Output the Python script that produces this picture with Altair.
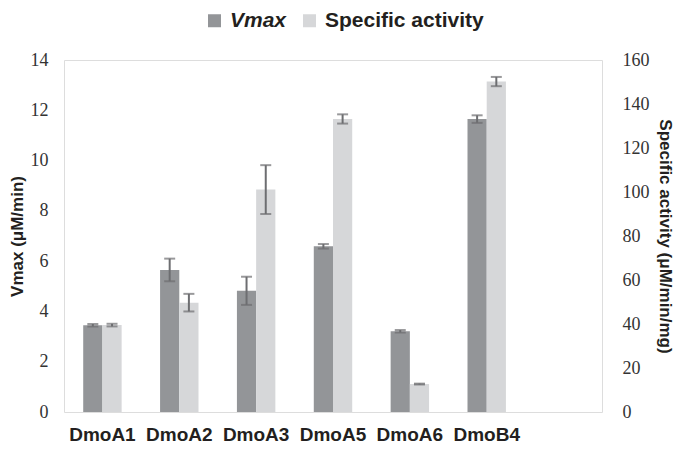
import altair as alt
import pandas as pd

categories = ["DmoA1", "DmoA2", "DmoA3", "DmoA5", "DmoA6", "DmoB4"]
series = ["Vmax", "Specific activity"]
vmax = [3.45, 5.65, 4.82, 6.59, 3.21, 11.65]
vmax_err = [0.05, 0.45, 0.56, 0.09, 0.05, 0.15]
spec = [39.5, 49.7, 101.1, 133.2, 12.7, 150.2]
spec_err = [0.6, 4.0, 11.1, 2.1, 0.2, 2.1]
x_domain = categories + [" "]

C_V = "#939598"
C_S = "#d6d7d9"
C_ERR = "#6d6e71"
TXT = "#231f20"


def frame(vals, errs, name):
    return pd.DataFrame({
        "cat": categories,
        "series": name,
        "val": vals,
        "lo": [v - e for v, e in zip(vals, errs)],
        "hi": [v + e for v, e in zip(vals, errs)],
    })


def caps(df):
    a = df[["cat", "series", "lo"]].rename(columns={"lo": "cap"})
    b = df[["cat", "series", "hi"]].rename(columns={"hi": "cap"})
    return pd.concat([a, b], ignore_index=True)


df_v = frame(vmax, vmax_err, series[0])
df_s = frame(spec, spec_err, series[1])

x_enc = alt.X(
    "cat:N",
    scale=alt.Scale(domain=x_domain, paddingInner=0.5, paddingOuter=0.25),
    sort=x_domain,
    axis=alt.Axis(title=None, labelFont="Liberation Sans", labelFontWeight="bold",
                  labelFontSize=19, labelColor=TXT, labelPadding=13, labelAngle=0,
                  domain=False, ticks=False),
)
xo_enc = alt.XOffset("series:N", scale=alt.Scale(domain=series))
color_enc = alt.Color(
    "series:N",
    scale=alt.Scale(domain=series, range=[C_V, C_S]),
    legend=alt.Legend(orient="none", legendX=140, legendY=-50, direction="horizontal",
                      title=None, symbolType="square", symbolSize=169, padding=0,
                      symbolStrokeWidth=0, labelFont="Liberation Sans",
                      labelFontWeight="bold", labelFontSize=21, labelColor=TXT,
                      columnPadding=12, labelOffset=5,
                      labelFontStyle={"expr": "datum.label == 'Vmax' ? 'italic' : 'normal'"}),
)


def group(df, dom, axis):
    y_scale = alt.Scale(domain=dom, nice=False)
    base = alt.Chart(df)
    bars = base.mark_bar().encode(
        x=x_enc, xOffset=xo_enc,
        y=alt.Y("val:Q", scale=y_scale, axis=axis),
        color=color_enc,
    )
    rule = base.mark_rule(color=C_ERR, strokeWidth=2).encode(
        x=x_enc, xOffset=xo_enc,
        y=alt.Y("lo:Q", scale=y_scale, axis=axis), y2="hi:Q",
    )
    cap = alt.Chart(caps(df)).mark_tick(color=C_ERR, thickness=2, size=11,
                                        orient="horizontal").encode(
        x=x_enc, xOffset=xo_enc,
        y=alt.Y("cap:Q", scale=y_scale, axis=axis),
    )
    return alt.layer(bars, rule, cap)


axis_common = dict(labelFont="Liberation Serif", labelFontSize=18, labelColor="#333333",
                   titleFont="Liberation Sans", titleFontWeight="bold", titleFontSize=17,
                   titleColor=TXT, domain=False, ticks=False, grid=False)

left_axis = alt.Axis(title="Vmax (μM/min)", values=list(range(0, 15, 2)), orient="left",
                     labelPadding=16, titlePadding=4, **axis_common)
right_axis = alt.Axis(title="Specific activity (μM/min/mg)", values=list(range(0, 161, 20)),
                      orient="right", labelPadding=20, titlePadding=6, **axis_common)

chart = alt.layer(
    group(df_v, [0, 14], left_axis),
    group(df_s, [0, 160], right_axis),
).resolve_scale(y="independent").properties(
    width=538, height=352, padding={"left": 0, "top": 2, "right": 0, "bottom": 0}
).configure_view(stroke="#3a3a3a", strokeWidth=1.5).configure(background="white")

chart.save("out.html", embed_options={"renderer": "svg", "actions": False})
